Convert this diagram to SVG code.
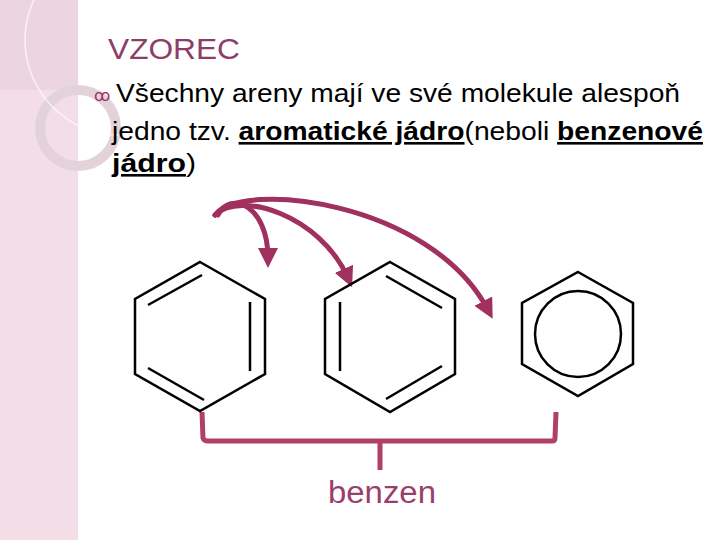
<svg xmlns="http://www.w3.org/2000/svg" width="720" height="540" viewBox="0 0 720 540">
<defs>
<style>
.t{font-family:"Liberation Sans",Arial,sans-serif;font-size:26px;fill:#000}
.b{font-weight:bold;text-decoration:underline}
.hex{fill:none;stroke:#000;stroke-width:2.5}
.arr{fill:none;stroke:#a0305e;stroke-width:5;stroke-linecap:round}
</style>
<marker id="ah" viewBox="0 0 10 10" refX="5" refY="5" markerWidth="4" markerHeight="4" orient="auto"><path d="M0,0 L10,5 L0,10 Z" fill="#a0305e"/></marker>
</defs>
<rect width="720" height="540" fill="#fff"/>
<rect width="78" height="540" fill="#f3dde7"/>
<rect width="78" height="90" fill="#ead0dc" opacity="0.6"/>
<circle cx="78" cy="128" r="38" fill="none" stroke="#e4d2da" stroke-width="10"/>
<circle cx="120" cy="40" r="95" fill="none" stroke="#fff" stroke-width="1.5" opacity="0.7"/>
<text x="108" y="59" textLength="132" lengthAdjust="spacingAndGlyphs" style="font-family:'Liberation Sans',Arial,sans-serif;font-size:29px;fill:#8e3e66">VZOREC</text>
<text x="94" y="101" style="font-family:'DejaVu Sans',sans-serif;font-size:16px;fill:#a0305e">ꝏ</text>
<text class="t" x="116" y="102" textLength="564" lengthAdjust="spacingAndGlyphs">Všechny areny mají ve své molekule alespoň</text>
<text class="t" x="112" y="140" textLength="591" lengthAdjust="spacingAndGlyphs">jedno tzv. <tspan class="b">aromatické jádro</tspan>(neboli <tspan class="b">benzenové</tspan></text>
<text class="t" x="112" y="172" textLength="84" lengthAdjust="spacingAndGlyphs"><tspan class="b">jádro</tspan>)</text>
<g id="connectors">
<path class="arr" d="M218,215 C230,190 268,205 268,258" marker-end="url(#ah)"/>
<path class="arr" d="M215,215 C240,190 320,215 348,278" marker-end="url(#ah)"/>
<path class="arr" d="M215,215 C240,180 430,200 488,310" marker-end="url(#ah)"/>
<path d="M202,412 L203,438 Q204,441 208,441 L552,441 Q555,441 555,438 L556,412 M380,441 L380,470" fill="none" stroke="#b04068" stroke-width="5"/>
</g>
<g id="hex1">
<polygon class="hex" points="200,262 265,299 265,374 200,411 135,374 135,299"/>
<line class="hex" x1="148" y1="305" x2="202" y2="275"/>
<line class="hex" x1="250" y1="302" x2="250" y2="371"/>
<line class="hex" x1="148" y1="368" x2="204" y2="400"/>
</g>
<g id="hex2">
<polygon class="hex" points="390,262 455,299 455,374 390,412 325,374 325,299"/>
<line class="hex" x1="340" y1="302" x2="340" y2="371"/>
<line class="hex" x1="386" y1="276" x2="442" y2="308"/>
<line class="hex" x1="386" y1="399" x2="442" y2="366"/>
</g>
<g id="hex3">
<polygon class="hex" points="578,272 633,303 633,364 578,396 522,364 522,303"/>
<circle class="hex" cx="578" cy="334" r="43"/>
</g>
<text x="382" y="503" text-anchor="middle" textLength="108" lengthAdjust="spacingAndGlyphs" style="font-family:'Liberation Sans',Arial,sans-serif;font-size:31px;fill:#9a3e6a">benzen</text>
</svg>
